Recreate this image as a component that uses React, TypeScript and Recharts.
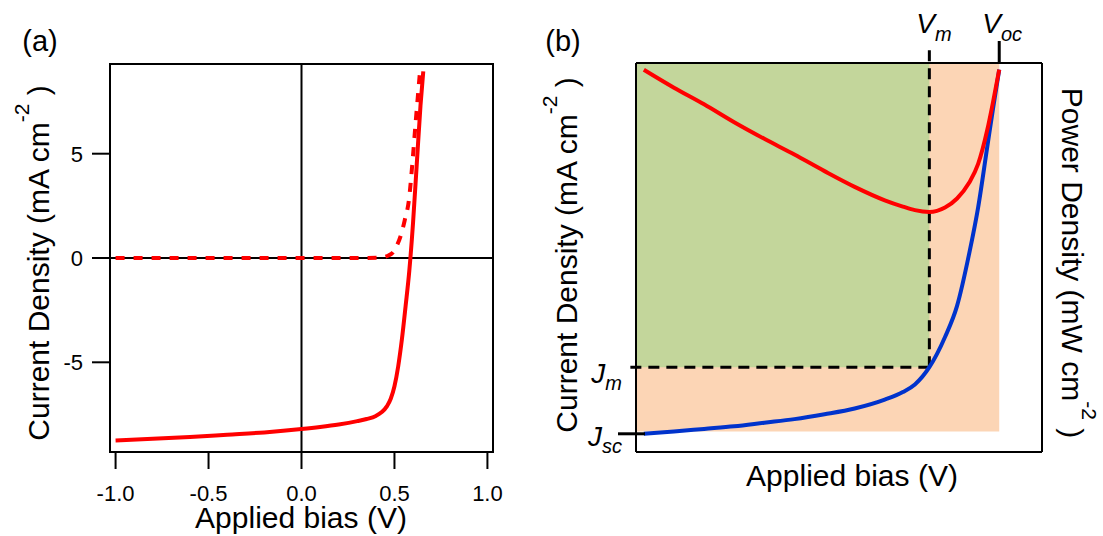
import React from 'react';
import {
  LineChart,
  Line,
  XAxis,
  YAxis,
  ReferenceLine,
  ReferenceArea,
} from 'recharts';

// (a) J-V curves: light (solid) and dark (dashed)
const biasLight = [-1.0, -0.8, -0.6, -0.4, -0.2, 0.0, 0.1, 0.2, 0.3, 0.35, 0.4, 0.43, 0.46, 0.48, 0.5, 0.52, 0.54, 0.56, 0.58, 0.6, 0.62, 0.64, 0.655];
const currentLight = [-8.75, -8.67, -8.58, -8.47, -8.36, -8.2, -8.1, -7.98, -7.82, -7.72, -7.57, -7.4, -7.1, -6.75, -6.15, -5.2, -3.9, -2.3, -0.6, 1.7, 4.5, 7.3, 8.95];
const biasDark = [-1.0, -0.5, 0.0, 0.3, 0.42, 0.45, 0.47, 0.49, 0.51, 0.533, 0.555, 0.578, 0.596, 0.614, 0.637];
const currentDark = [0, 0, 0, 0, 0.02, 0.06, 0.13, 0.25, 0.55, 1.05, 1.8, 2.8, 4.5, 6.5, 8.9];
const biasTicks = [-1, -0.5, 0, 0.5, 1];
const currentTicks = [-5, 0, 5];

// (b) schematic J-V (blue) and P-V (red)
const biasB = [0, 0.05, 0.1, 0.15, 0.2, 0.25, 0.3, 0.35, 0.4, 0.43, 0.45, 0.474, 0.5, 0.52, 0.54, 0.555, 0.57, 0.58, 0.59];
const currentB = [-8.2, -8.15, -8.09, -8.03, -7.95, -7.87, -7.76, -7.63, -7.43, -7.26, -7.09, -6.7, -6.02, -5.32, -4.15, -3.1, -1.75, -0.85, 0];
const powerB = [0, -0.4, -0.77, -1.17, -1.54, -1.89, -2.26, -2.61, -2.91, -3.05, -3.13, -3.17, -3.07, -2.87, -2.52, -2.1, -1.35, -0.7, 0];
const V_M = 0.474;
const V_OC = 0.59;
const J_M = -6.7;
const J_SC = -8.2;
const J_RECT = -8.15; // bottom of the Voc x Jsc rectangle

const X_B: [number, number] = [-0.013, 0.661];
const J_B: [number, number] = [-8.61, 0.15];
const P_B: [number, number] = [-8.52, 0.15];

const lightData = biasLight.map((v, i) => ({ v, j: currentLight[i] }));
const darkData = biasDark.map((v, i) => ({ v, j: currentDark[i] }));
const dataB = biasB.map((v, i) => ({ v, j: currentB[i], p: powerB[i] }));

const FONT = '"Liberation Sans", Arial, Helvetica, sans-serif';
const black = { stroke: '#000', strokeWidth: 2 };

function SideTitle({ x, y, angle, text }: { x: number; y: number; angle: number; text: string }) {
  return (
    <text x={x} y={y} transform={`rotate(${angle}, ${x}, ${y})`} textAnchor="middle" fontSize={30} fill="#000">
      {text}
      <tspan fontSize={21} dy={-20}>-2</tspan>
      <tspan dy={20}>{'\u00a0)'}</tspan>
    </text>
  );
}

const TitleA = () => (
  <g>
    <text x={40} y={51} textAnchor="middle" fontSize={29} fill="#000">(a)</text>
    <SideTitle x={49} y={263} angle={-90} text="Current Density (mA cm" />
  </g>
);

const BiasTitleA = () => (
  <text x={301} y={528} textAnchor="middle" fontSize={30} fill="#000">Applied bias (V)</text>
);

const TitleB = () => (
  <g>
    <text x={43} y={51} textAnchor="middle" fontSize={29} fill="#000">(b)</text>
    <SideTitle x={57} y={255} angle={-90} text="Current Density (mA cm" />
  </g>
);

const PowerTitleB = () => <SideTitle x={542} y={263} angle={90} text="Power Density (mW cm" />;

const BiasTitleB = () => (
  <text x={332} y={486} textAnchor="middle" fontSize={30} fill="#000">Applied bias (V)</text>
);

const BiasTickA = (props: any) => {
  const { x, y, payload } = props;
  return (
    <text x={x} y={y} dy="0.71em" textAnchor="middle" fontSize={22} fill="#000">
      {Number(payload.value).toFixed(1)}
    </text>
  );
};

const CurrentTickA = (props: any) => {
  const { x, y, payload } = props;
  return (
    <text x={x} y={y} dy="0.355em" textAnchor="end" fontSize={22} fill="#000">
      {payload.value}
    </text>
  );
};

const VTick = (props: any) => {
  const { x, y, payload } = props;
  const oc = payload.value === V_OC;
  return (
    <g>
      {oc && <line x1={x} x2={x} y1={y} y2={y - 22} stroke="#000" strokeWidth={3} />}
      <text x={x - (oc ? 17 : 13)} y={y - 30} fontSize={28} fontStyle="italic" fill="#000">
        V<tspan fontSize={20} dy={8}>{oc ? 'oc' : 'm'}</tspan>
      </text>
    </g>
  );
};

const JTick = (props: any) => {
  const { x, y, payload } = props;
  const sc = payload.value === J_SC;
  return (
    <g>
      {sc && <line x1={x - 18} x2={x + 9} y1={y} y2={y} stroke="#000" strokeWidth={3} />}
      <text x={x - 14} y={y + (sc ? 12 : 16)} textAnchor="end" fontSize={28} fontStyle="italic" fill="#000">
        J<tspan fontSize={20} dy={7}>{sc ? 'sc' : 'm'}</tspan>
      </text>
    </g>
  );
};

export default function App() {
  return (
    <div style={{ position: 'absolute', left: 0, top: 0, width: 1103, height: 536, background: '#fff', fontFamily: FONT }}>
      <div style={{ position: 'absolute', left: 0, top: 0 }}>
        <LineChart width={520} height={536} margin={{ top: 64, right: 27, bottom: 0, left: 0 }}>
          <XAxis
            type="number"
            dataKey="v"
            domain={[-1.03, 1.03]}
            allowDataOverflow
            ticks={biasTicks}
            interval={0}
            height={84}
            tickSize={17}
            tickMargin={16}
            tick={<BiasTickA />}
            axisLine={black}
            tickLine={black}
            label={<BiasTitleA />}
          />
          <YAxis
            type="number"
            domain={[-9.3, 9.3]}
            allowDataOverflow
            ticks={currentTicks}
            interval={0}
            width={110}
            tickSize={18}
            tickMargin={9}
            tick={<CurrentTickA />}
            axisLine={black}
            tickLine={black}
            label={<TitleA />}
          />
          <ReferenceArea x1={-1.03} x2={1.03} y1={-9.3} y2={9.3} fill="none" fillOpacity={0} stroke="#000" strokeWidth={2} />
          <ReferenceLine y={0} stroke="#000" strokeWidth={2} />
          <ReferenceLine x={0} stroke="#000" strokeWidth={2} />
          <Line
            data={darkData}
            dataKey="j"
            type="monotone"
            stroke="#ff0000"
            strokeWidth={4}
            strokeDasharray="9 9"
            dot={false}
            activeDot={false}
            isAnimationActive={false}
          />
          <Line
            data={lightData}
            dataKey="j"
            type="monotone"
            stroke="#ff0000"
            strokeWidth={4}
            dot={false}
            activeDot={false}
            isAnimationActive={false}
          />
        </LineChart>
      </div>
      <div style={{ position: 'absolute', left: 520, top: 0 }}>
        <LineChart width={583} height={536} data={dataB} margin={{ top: 0, right: 0, bottom: 0, left: 0 }}>
          <XAxis
            type="number"
            dataKey="v"
            domain={X_B}
            allowDataOverflow
            height={84}
            tick={false}
            tickLine={false}
            axisLine={black}
            label={<BiasTitleB />}
          />
          <XAxis
            xAxisId="top"
            orientation="top"
            type="number"
            dataKey="v"
            domain={X_B}
            allowDataOverflow
            height={63}
            ticks={[V_M, V_OC]}
            interval={0}
            tickSize={0}
            tickMargin={0}
            tickLine={false}
            tick={<VTick />}
            axisLine={black}
          />
          <YAxis
            type="number"
            domain={J_B}
            allowDataOverflow
            width={116}
            ticks={[J_SC, J_M]}
            interval={0}
            tickSize={0}
            tickMargin={0}
            tickLine={false}
            tick={<JTick />}
            axisLine={black}
            label={<TitleB />}
          />
          <YAxis
            yAxisId="p"
            orientation="right"
            type="number"
            domain={P_B}
            allowDataOverflow
            width={61}
            tick={false}
            tickLine={false}
            axisLine={black}
            label={<PowerTitleB />}
          />
          <ReferenceArea x1={X_B[0]} x2={V_OC} y1={J_RECT} y2={J_B[1]} fill="#fcd5b5" fillOpacity={1} stroke="none" />
          <ReferenceArea x1={X_B[0]} x2={V_M} y1={J_M} y2={J_B[1]} fill="#c3d69b" fillOpacity={1} stroke="none" />
          <ReferenceLine
            segment={[{ x: V_M, y: J_M }, { x: V_M, y: 0.56 }]}
            ifOverflow="visible"
            stroke="#000"
            strokeWidth={3}
            strokeDasharray="11 7"
          />
          <ReferenceLine
            segment={[{ x: V_M, y: J_M }, { x: -0.032, y: J_M }]}
            ifOverflow="visible"
            stroke="#000"
            strokeWidth={3}
            strokeDasharray="11 7"
          />
          <Line
            dataKey="j"
            type="monotone"
            stroke="#0033cc"
            strokeWidth={4}
            dot={false}
            activeDot={false}
            isAnimationActive={false}
          />
          <Line
            yAxisId="p"
            dataKey="p"
            type="monotone"
            stroke="#ff0000"
            strokeWidth={4}
            dot={false}
            activeDot={false}
            isAnimationActive={false}
          />
        </LineChart>
      </div>
    </div>
  );
}
